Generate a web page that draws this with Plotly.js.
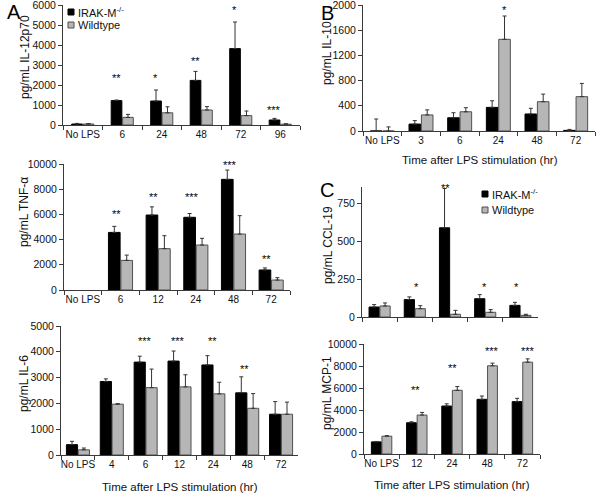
<!DOCTYPE html>
<html><head><meta charset="utf-8">
<script src="https://cdn.plot.ly/plotly-3.0.1.min.js"></script>
<style>body{margin:0;background:#fff}#chart{width:600px;height:494px}</style>
</head><body><div id="chart"></div>
<script>
// ---------- data ----------
const catsA1 = ["No LPS","6","24","48","72","96"];
const koA1   = [50, 1220, 1200, 2230, 3820, 250];
const koA1e  = [30, 30, 550, 450, 1330, 80];
const wtA1   = [50, 380, 610, 750, 470, 40];
const wtA1e  = [20, 150, 300, 170, 230, 20];
const starA1 = ["", "**", "*", "**", "*", "***"];
const starA1y= [0, 2500, 2500, 3330, 5900, 920];

const catsA2 = ["No LPS","6","12","24","48","72"];
const koA2   = [null, 4570, 5950, 5770, 8780, 1590];
const koA2e  = [null, 480, 650, 300, 740, 160];
const wtA2   = [null, 2350, 3280, 3570, 4440, 790];
const wtA2e  = [null, 420, 1030, 530, 1460, 190];
const starA2 = ["", "**", "**", "***", "***", "**"];
const starA2y= [0, 6270, 7590, 7590, 10130, 2700];

const catsA3 = ["No LPS","4","6","12","24","48","72"];
const koA3   = [400, 2850, 3600, 3640, 3490, 2410, 1580];
const koA3e  = [130, 100, 230, 390, 360, 620, 490];
const wtA3   = [200, 1970, 2610, 2640, 2370, 1810, 1580];
const wtA3e  = [70, 20, 720, 470, 450, 570, 470];
const starA3 = ["", "", "***", "***", "**", "**", ""];
const starA3y= [0, 0, 4550, 4550, 4550, 3460, 0];

const catsB  = ["No LPS","3","6","24","48","72"];
const koB    = [0, 110, 210, 375, 270, 10];
const koBe   = [190, 55, 80, 105, 90, 15];
const wtB    = [0, 255, 305, 1455, 465, 545];
const wtBe   = [65, 80, 65, 370, 120, 210];
const starB  = ["", "", "", "*", "", ""];
const starBy = [0, 0, 0, 1970, 0, 0];

const catsC1 = ["No LPS","12","24","48","72"];
const koC1   = [66, 115, 590, 121, 77];
const koC1e  = [16, 18, 260, 27, 20];
const wtC1   = [73, 55, 18, 31, 11];
const wtC1e  = [20, 20, 26, 18, 7];
const starC1 = ["", "*", "**", "*", "*"];
const starC1y= [0, 220, 870, 220, 220];

const catsC2 = ["No LPS","12","24","48","72"];
const koC2   = [1100, 2840, 4360, 4970, 4760];
const koC2e  = [40, 90, 200, 300, 300];
const wtC2   = [1620, 3540, 5790, 8020, 8350];
const wtC2e  = [40, 240, 340, 240, 300];
const starC2 = ["", "**", "**", "***", "***"];
const starC2y= [0, 6130, 8110, 9630, 9630];

const seriesNames = ["IRAK-M<sup>-/-</sup>", "Wildtype"];
const yTitles = ["pg/mL IL-12p70","pg/mL TNF-\u03b1","pg/mL IL-6","pg/mL IL-10","pg/mL CCL-19","pg/mL MCP-1"];
const xTitle = "Time after LPS stimulation (hr)";

// ---------- layout helpers ----------
const W = 600, H = 494;
const KO_COL = "#000000", WT_COL = "#b6b6b6", WT_LINE = "#505050", AX = "#3a3a3a";
const FONT = "Liberation Sans, Arial, sans-serif";

const panels = [
  {cats:catsA1, ko:koA1, koe:koA1e, wt:wtA1, wte:wtA1e, st:starA1, sty:starA1y, px:[63,300], py:[5,125], yr:[0,6000], dt:1000, bw:0.27, sx:[0,-6,-6,-6,-6,-6], ticks:true},
  {cats:catsA2, ko:koA2, koe:koA2e, wt:wtA2, wte:wtA2e, st:starA2, sty:starA2y, px:[64,290], py:[164,290], yr:[0,10000], dt:2000, bw:0.31, sx:[0,-4,-5,-4,-4,-5], ticks:true},
  {cats:catsA3, ko:koA3, koe:koA3e, wt:wtA3, wte:wtA3e, st:starA3, sty:starA3y, px:[61,298], py:[326,455], yr:[0,5000], dt:1000, bw:0.33, sx:[0,0,-1,-2,-1,-3,0], ticks:true},
  {cats:catsB,  ko:koB,  koe:koBe,  wt:wtB,  wte:wtBe,  st:starB,  sty:starBy,  px:[363,595], py:[5,131], yr:[0,2000], dt:400, bw:0.30, sx:[0,0,0,6,0,0], ticks:true},
  {cats:catsC1, ko:koC1, koe:koC1e, wt:wtC1, wte:wtC1e, st:starC1, sty:starC1y, px:[362,538], py:[187,317], yr:[0,860], dt:250, bw:0.29, sx:[0,2,-5,-1,-4], ticks:false},
  {cats:catsC2, ko:koC2, koe:koC2e, wt:wtC2, wte:wtC2e, st:starC2, sty:starC2y, px:[364,540], py:[344,454], yr:[0,10000], dt:2000, bw:0.28, sx:[0,-1,0,5,6], ticks:true}
];

const data = [], annotations = [], shapes = [];
const layout = {
  width: W, height: H, margin:{l:0,r:0,t:0,b:0},
  paper_bgcolor:"#fff", plot_bgcolor:"rgba(0,0,0,0)",
  barmode:"overlay", showlegend:false,
  font:{family:FONT, color:"#000", size:10.5}
};

panels.forEach((p, i) => {
  const n = i === 0 ? "" : String(i+1);
  const xa = "x"+n, ya = "y"+n;
  const gap = 0.02;
  data.push({
    type:"bar", x:p.cats, y:p.ko, xaxis:xa, yaxis:ya, name:seriesNames[0],
    width:p.bw, offset:-p.bw-gap/2,
    marker:{color:KO_COL, line:{color:"#000", width:1}},
    error_y:{type:"data", symmetric:false, array:p.koe, arrayminus:p.ko.map(()=>0), color:"#333", thickness:1, width:2}
  });
  data.push({
    type:"bar", x:p.cats, y:p.wt, xaxis:xa, yaxis:ya, name:seriesNames[1],
    width:p.bw, offset:gap/2,
    marker:{color:WT_COL, line:{color:WT_LINE, width:1}},
    error_y:{type:"data", symmetric:false, array:p.wte, arrayminus:p.wt.map(()=>0), color:"#333", thickness:1, width:2}
  });
  layout["xaxis"+n] = {
    domain:[p.px[0]/W, p.px[1]/W], anchor:ya, type:"category",
    categoryorder:"array", categoryarray:p.cats,
    range:[-0.5, p.cats.length-0.5],
    showline:true, linecolor:AX, linewidth:1, showgrid:false, zeroline:false,
    ticks:"outside", tickson:"boundaries", ticklen:4, tickcolor:AX, tickangle:0,
    showticklabels:p.ticks, tickfont:{size:10, family:FONT, color:"#111"}, fixedrange:true
  };
  layout["yaxis"+n] = {
    domain:[1-p.py[1]/H, 1-p.py[0]/H], anchor:xa, range:p.yr, dtick:p.dt, tick0:0,
    tickformat:"d", ticklabeloverflow:"allow",
    showline:true, linecolor:AX, linewidth:1, showgrid:false, zeroline:false,
    ticks:"outside", ticklen:4, tickcolor:AX,
    tickfont:{size:10.5, family:FONT, color:"#111"}, fixedrange:true
  };
  p.st.forEach((s, k) => {
    if (!s) return;
    annotations.push({xref:xa, yref:ya+" domain", x:k, y:(p.sty[k]-p.yr[0])/(p.yr[1]-p.yr[0]),
      xanchor:"center", yanchor:"middle",
      text:s, showarrow:false, xshift:p.sx[k], yshift:-3,
      font:{size:11, family:FONT, color:"#000"}});
  });
});

// y-axis titles
const yTitlePos = [[25,57],[24,212],[24,384],[327,53],[328,245],[327,393]];
yTitles.forEach((t, i) => {
  annotations.push({xref:"paper", yref:"paper", x:yTitlePos[i][0]/W, y:1-yTitlePos[i][1]/H,
    text:t, textangle:-90, showarrow:false, xanchor:"center", yanchor:"middle",
    font:{size:12, family:FONT, color:"#111"}});
});
// x-axis titles
[[180,487],[480,160],[452,485]].forEach(pt => {
  annotations.push({xref:"paper", yref:"paper", x:pt[0]/W, y:1-pt[1]/H, text:xTitle,
    showarrow:false, xanchor:"center", yanchor:"middle", font:{size:11.5, family:FONT, color:"#111"}});
});
// panel letters
[["A",14,12],["B",327,13],["C",327,190]].forEach(l => {
  annotations.push({xref:"paper", yref:"paper", x:l[1]/W, y:1-l[2]/H, text:l[0],
    showarrow:false, xanchor:"center", yanchor:"middle", font:{size:20, family:FONT, color:"#000"}});
});
// legends (panel A top and panel C top)
[[68,12,13],[482,194,16]].forEach(pos => {
  const [lx, ly, step] = pos;
  seriesNames.forEach((nm, k) => {
    const cy = ly + k*step;
    shapes.push({type:"rect", xref:"paper", yref:"paper",
      x0:lx/W, x1:(lx+6)/W, y0:1-(cy+3)/H, y1:1-(cy-3)/H,
      fillcolor:k===0?KO_COL:WT_COL, line:{color:k===0?"#000":WT_LINE, width:1}});
    annotations.push({xref:"paper", yref:"paper", x:(lx+8)/W, y:1-cy/H, text:nm,
      showarrow:false, xanchor:"left", yanchor:"middle", font:{size:11, family:FONT, color:"#111"}});
  });
});

layout.annotations = annotations;
layout.shapes = shapes;
Plotly.newPlot("chart", data, layout, {staticPlot:true, displayModeBar:false});
</script></body></html>
